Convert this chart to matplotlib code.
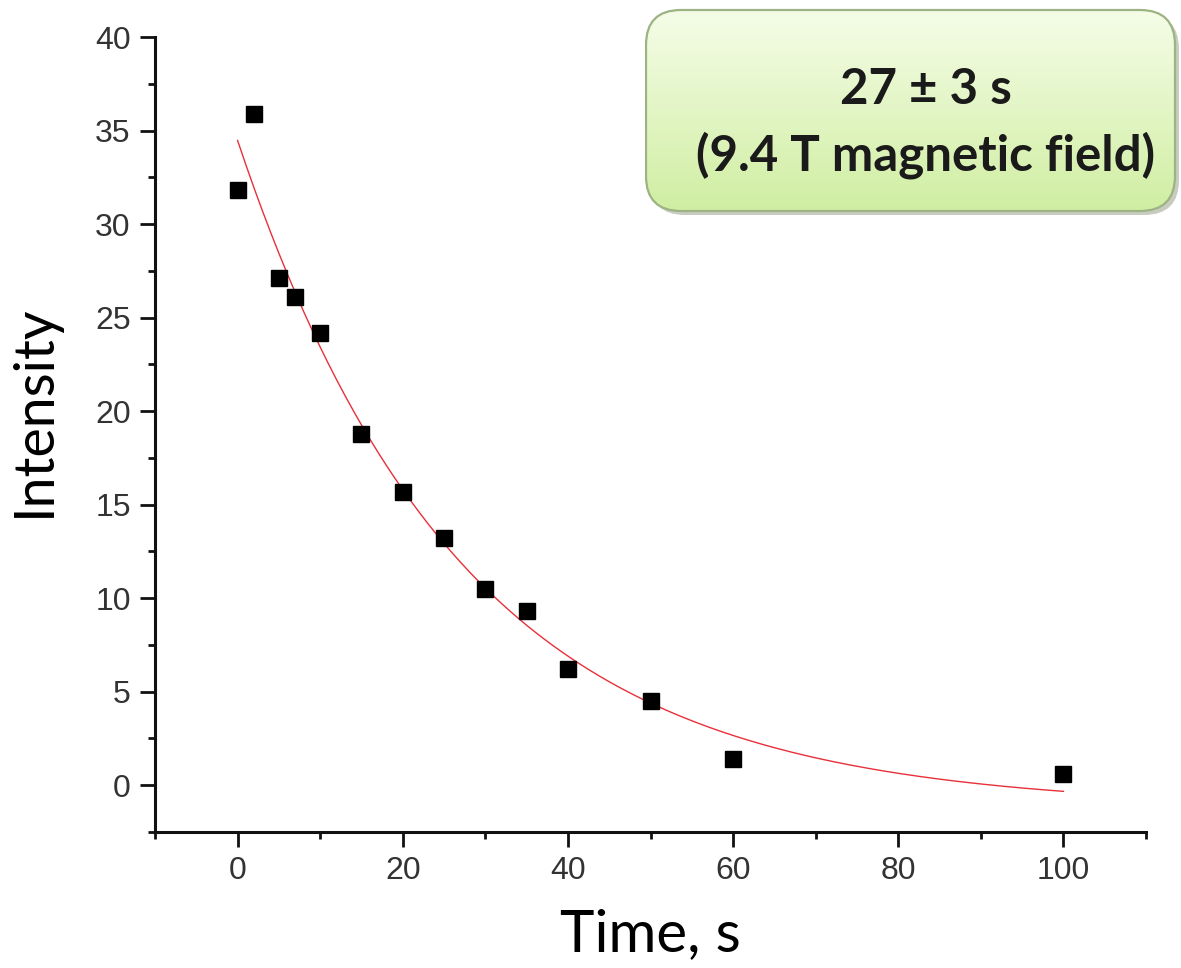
import matplotlib.pyplot as plt
import numpy as np
from matplotlib.patches import FancyBboxPatch
from matplotlib.ticker import MultipleLocator

# measured points
time_s = [0, 2, 5, 7, 10, 15, 20, 25, 30, 35, 40, 50, 60, 100]
intensity = [31.8, 35.9, 27.1, 26.1, 24.2, 18.8, 15.7, 13.2, 10.5, 9.3, 6.2, 4.5, 1.4, 0.6]

# fit: y = A*exp(-t/tau) + y0, tau from the label, A and y0 by least squares
tau = 27.0
t = np.array(time_s, dtype=float)
M = np.column_stack([np.exp(-t / tau), np.ones_like(t)])
A, y0 = np.linalg.lstsq(M, np.array(intensity), rcond=None)[0]
t_fit = np.linspace(0, 100, 300)
y_fit = A * np.exp(-t_fit / tau) + y0

plt.rcParams['font.family'] = ['Liberation Sans', 'DejaVu Sans']

fig = plt.figure(figsize=(11.81, 9.68), dpi=100)
ax = fig.add_axes([155 / 1181, 1 - 832 / 968, (1146 - 155) / 1181, (832 - 37) / 968])

ax.plot(t_fit, y_fit, color='#e8303a', lw=1.0, zorder=2)
ax.plot(time_s, intensity, 's', color='black', ms=11.5, zorder=3)

ax.set_xlim(-10, 110)
ax.set_ylim(-2.5, 40)
ax.xaxis.set_major_locator(MultipleLocator(20))
ax.xaxis.set_minor_locator(MultipleLocator(10))
ax.yaxis.set_major_locator(MultipleLocator(5))
ax.yaxis.set_minor_locator(MultipleLocator(2.5))
ax.tick_params(which='major', direction='out', length=10.5, width=2, labelsize=23, pad=7,
               color='#111111', labelcolor='#333333')
ax.tick_params(which='minor', direction='out', length=5, width=2, color='#111111')
for s in ['top', 'right']:
    ax.spines[s].set_visible(False)
for s in ['left', 'bottom']:
    ax.spines[s].set_linewidth(2.2)
    ax.spines[s].set_color('#111111')

ax.set_xlabel('Time, s', fontsize=42, family='Lato', labelpad=16)
ax.set_ylabel('Intensity', fontsize=40, family='Lato')
ax.yaxis.set_label_coords(-0.096, 0.53)

# green rounded note box with vertical gradient
bw, bh = 536, 207
bax = fig.add_axes([645 / 1181, 1 - 215 / 968, bw / 1181, bh / 968])
bax.set_xlim(0, bw)
bax.set_ylim(0, bh)
bax.axis('off')
shadow = FancyBboxPatch((5, 0), bw - 7, bh - 6, boxstyle='round,pad=0,rounding_size=35',
                        fc='#c8ccc0', ec='none', zorder=0)
bax.add_patch(shadow)
box = FancyBboxPatch((1, 4), bw - 7, bh - 6, boxstyle='round,pad=0,rounding_size=35',
                     fc='none', ec='#9db383', lw=1.6, zorder=3)
bax.add_patch(box)
top_c = np.array([0xf5, 0xfd, 0xe8]) / 255
bot_c = np.array([0xd0, 0xee, 0xa2]) / 255
frac = np.linspace(0, 1, 256)[:, None]
grad = (top_c * (1 - frac) + bot_c * frac)[:, None, :]
img = bax.imshow(grad, extent=[1, bw - 6, 4, bh - 2], aspect='auto', zorder=1, origin='upper')
img.set_clip_path(box)

fig.text(926 / 1181, 1 - 90 / 968, '27 ± 3 s', ha='center', va='center',
         fontsize=35.5, fontweight='bold', family='Lato', color='#1a1a1a')
fig.text(926 / 1181, 1 - 155 / 968, '(9.4 T magnetic field)', ha='center', va='center',
         fontsize=35.5, fontweight='bold', family='Lato', color='#1a1a1a')

fig.savefig('out.png', dpi=100)
